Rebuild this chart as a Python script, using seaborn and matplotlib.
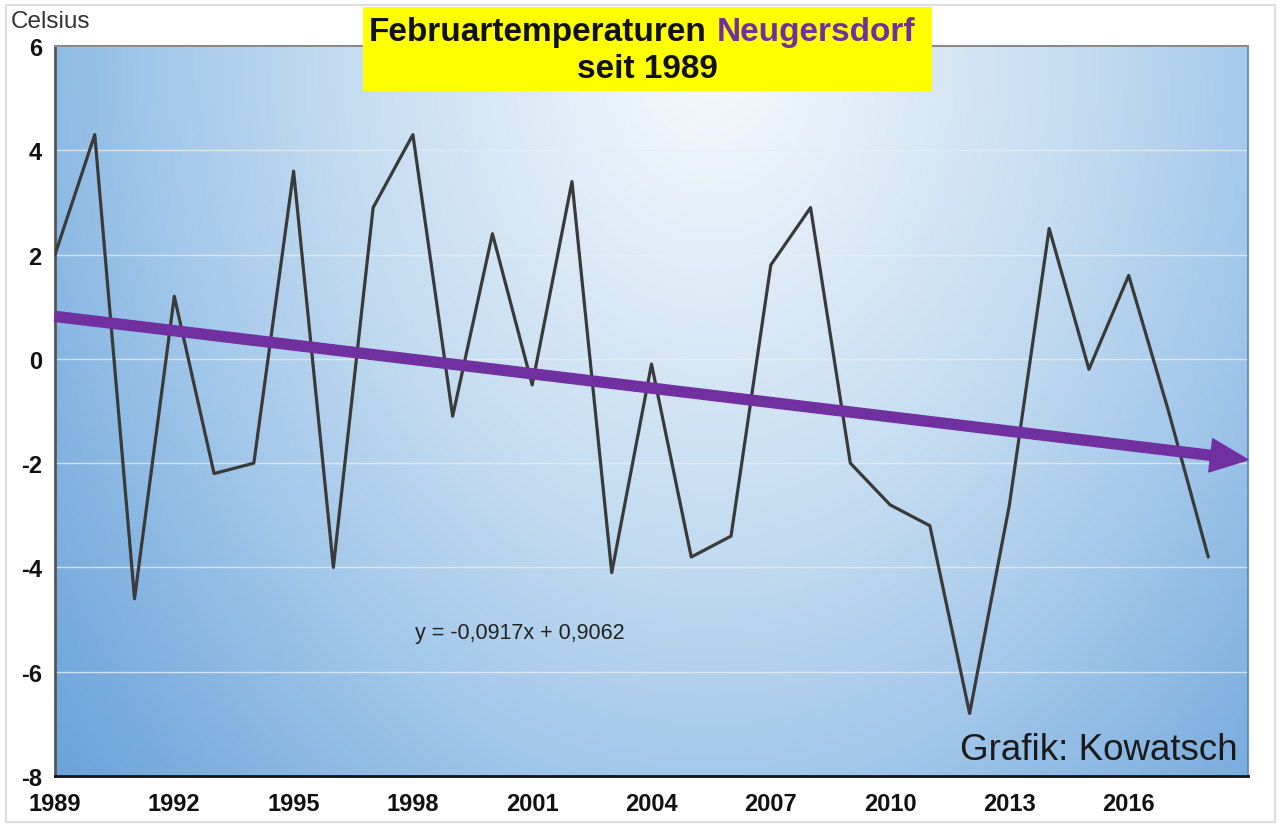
import numpy as np
import matplotlib
matplotlib.use('Agg')
import matplotlib.pyplot as plt
from matplotlib.colors import LinearSegmentedColormap
from matplotlib.patches import Rectangle
from matplotlib.ticker import MultipleLocator
import seaborn as sns

# february temperatures Neugersdorf
years = list(range(1989, 2019))
temps = [2.0, 4.3, -4.6, 1.2, -2.2, -2.0, 3.6, -4.0, 2.9, 4.3,
         -1.1, 2.4, -0.5, 3.4, -4.1, -0.1, -3.8, -3.4, 1.8, 2.9,
         -2.0, -2.8, -3.2, -6.8, -2.8, 2.5, -0.2, 1.6, -1.0, -3.8]

# excel trend line from the chart: y = -0,0917x + 0,9062 (x = 1 for 1989)
slope = -0.0917
intercept = 0.9062

year_ticks = list(range(1989, 2020, 3))
year_labels = [str(y) for y in year_ticks[:-1]] + ['']

sns.set_style('white')
plt.rcParams['font.family'] = ['Liberation Sans', 'DejaVu Sans']
plt.rcParams['axes.unicode_minus'] = False

W, H = 1281, 829
fig = plt.figure(figsize=(W / 100, H / 100), dpi=100)
ax = fig.add_axes([55 / W, 1 - 777 / H, 1193 / W, 730 / H])

# radial background gradient, light at top middle
gx, gy = np.meshgrid(np.linspace(0, 1, 400), np.linspace(0, 1, 300))
d = np.sqrt(((gx - 0.55) / 0.62) ** 2 + ((gy - 1.0) / 1.35) ** 2)
bg_cmap = LinearSegmentedColormap.from_list(
    'bg', [(0, '#f7fafd'), (0.4, '#c4dcf1'), (0.6, '#a3c8ea'), (0.8, '#7fb0e0'), (1.0, '#5e9dd7')])
ax.imshow(d, extent=[1989, 2019, -8, 6], origin='lower', aspect='auto',
          cmap=bg_cmap, vmin=0, vmax=1.25, zorder=0, interpolation='bilinear')

# temperature line
sns.lineplot(x=years, y=temps, ax=ax, color='#3a3a3a', linewidth=2.3, zorder=3)

# trend arrow
x0, x1 = 1, len(years) + 1
ax.annotate('', xy=(1989 + x1 - 1, slope * x1 + intercept),
            xytext=(1989 + x0 - 1, slope * x0 + intercept),
            arrowprops=dict(arrowstyle='simple,head_length=2.7,head_width=2.4,tail_width=0.72',
                            mutation_scale=10, color='#7030a0', shrinkA=0, shrinkB=0),
            zorder=4, annotation_clip=False)

ax.set_xlim(1989, 2019)
ax.set_ylim(-8, 6)
ax.set_xlabel('')
ax.set_ylabel('')

ax.set_xticks(year_ticks)
ax.set_xticklabels(year_labels)
ax.yaxis.set_major_locator(MultipleLocator(2))
ax.yaxis.set_minor_locator(MultipleLocator(1))
ax.tick_params(axis='x', direction='inout', length=11, width=1.5, color='#222222',
               labelsize=17, pad=6)
ax.tick_params(axis='y', which='major', direction='inout', length=11, width=1.5,
               color='#333333', labelsize=17, pad=4)
ax.tick_params(axis='y', which='minor', direction='inout', length=11, width=1.5,
               color='#333333')
for lab in ax.get_xticklabels() + ax.get_yticklabels():
    lab.set_fontweight('bold')
    lab.set_color('#111111')

ax.yaxis.grid(True, which='major', color='#e8eef3', linewidth=1.0, alpha=0.8)
ax.set_axisbelow('line')

ax.spines['left'].set_color('#555555')
ax.spines['left'].set_linewidth(2)
ax.spines['bottom'].set_color('#111111')
ax.spines['bottom'].set_linewidth(2)
ax.spines['top'].set_color('#8a8a8a')
ax.spines['top'].set_linewidth(1.5)
ax.spines['right'].set_color('#4f86bd')
ax.spines['right'].set_linewidth(1.2)

ax.text(0.39, 0.197, 'y = -0,0917x + 0,9062', transform=ax.transAxes,
        ha='center', va='center', fontsize=15.5, color='#222222', zorder=5)
ax.text(0.9916, 0.012, 'Grafik: Kowatsch', transform=ax.transAxes,
        ha='right', va='bottom', fontsize=26.5, color='#1a1a1a', zorder=5)

fig.text(11 / W, 1 - 22 / H, 'Celsius', ha='left', va='center',
         fontsize=17.5, color='#333333')

# yellow title box
fig.patches.append(Rectangle((363 / W, 1 - 92 / H), 569 / W, 84 / H,
                             transform=fig.transFigure, facecolor='#ffff00',
                             edgecolor='none', zorder=5))
fig.text(707 / W, 1 - 32 / H, 'Februartemperaturen', ha='right', va='center',
         fontsize=24, fontweight='bold', color='#111111', zorder=6)
fig.text(717 / W, 1 - 32 / H, 'Neugersdorf', ha='left', va='center',
         fontsize=24, fontweight='bold', color='#7030a0', zorder=6)
fig.text(647 / W, 1 - 70 / H, 'seit 1989', ha='center', va='center',
         fontsize=24, fontweight='bold', color='#111111', zorder=6)

# light frame round the whole picture
fig.patches.append(Rectangle((6 / W, 6 / H), 1 - 12 / W, 1 - 12 / H,
                             transform=fig.transFigure, facecolor='none',
                             edgecolor='#dddddd', linewidth=1.5, zorder=0))

fig.savefig('out.png', dpi=100)
